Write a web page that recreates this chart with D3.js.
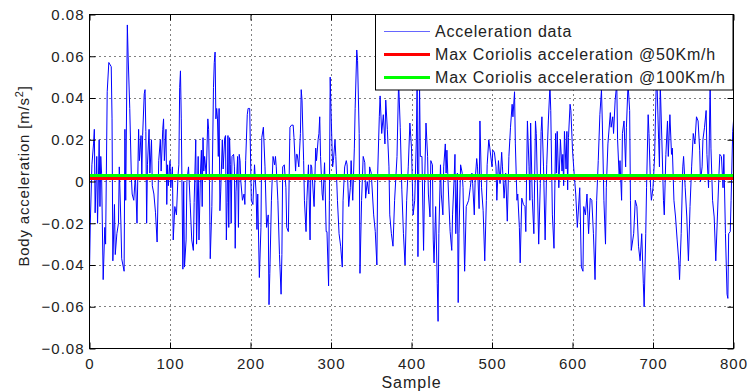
<!DOCTYPE html>
<html>
<head>
<meta charset="utf-8">
<script src="https://cdn.jsdelivr.net/npm/d3@7"></script>
<style>
    body { margin: 0; background: #fff; }
    svg { display: block; font-family: "Liberation Sans", Arial, Helvetica, sans-serif; }
</style>
</head>
<body>
<svg id="chart" width="749" height="392"></svg>
<script>
'use strict';

// [sample, body acceleration (m/s^2)]
var accelReadings = [
    [0,-0.043],[1,-0.02],[3,0.008],[5,0.018],[6,0.025],[7,-0.015],[9,0.012],[10,-0.02],[12,0.02],[13,-0.012],
    [14,0.012],[15,0.004],[17,-0.047],[19,-0.022],[20,-0.03],[22,0.043],[24,0.057],[27,0.055],[28,0.03],[29,-0.038],
    [31,-0.011],[32,-0.035],[34,-0.025],[36,-0.02],[37,0.007],[39,-0.02],[40,-0.037],[43,-0.043],[44,0.025],[45,-0.009],
    [47,0.075],[48,0.06],[50,0.035],[52,0.002],[53,-0.006],[55,-0.009],[57,0.003],[59,-0.02],[61,0.025],[62,0.01],
    [64,0.022],[65,0.003],[66,0.022],[68,0.042],[69,0.044],[70,0.024],[71,-0.02],[72,0.008],[74,0.025],[75,0.004],
    [77,0.02],[78,-0.002],[80,-0.006],[82,-0.015],[84,-0.029],[86,0.01],[88,0.02],[89,0.005],[91,0.025],[92,0.03],
    [93,0.01],[95,0.025],[96,-0.011],[97,0.008],[98,-0.002],[100,0.01],[101,-0.003],[103,0.007],[104,-0.028],[106,-0.012],
    [108,-0.016],[110,0.003],[111,0.008],[112,0.045],[113,0.053],[114,0.03],[116,-0.042],[117,0],[118,-0.041],[120,-0.028],
    [121,0],[123,0.007],[125,-0.01],[127,-0.028],[129,-0.033],[130,-0.01],[132,0.02],[133,-0.03],[135,0.012],[136,-0.028],
    [138,0.006],[139,0.015],[140,-0.012],[141,0.021],[142,0.005],[143,0.012],[145,0.003],[147,0.03],[148,0.025],[149,0],
    [150,-0.037],[152,-0.012],[154,0.045],[155,0.057],[156,0.062],[157,0.03],[158,0.035],[159,0.03],[160,0.012],[161,0.035],
    [162,-0.014],[163,-0.005],[165,0.02],[166,0.006],[168,0.021],[169,0.022],[170,-0.028],[171,-0.01],[172,0.022],[173,-0.022],
    [174,0.021],[175,0.008],[176,-0.02],[177,0.012],[179,0.013],[180,0.007],[181,-0.032],[182,-0.005],[184,0.012],[185,-0.022],
    [186,0.013],[187,0.01],[188,0],[190,-0.009],[192,-0.006],[193,-0.011],[194,0.01],[196,0.032],[197,0.035],[198,0.035],
    [199,0.035],[201,-0.009],[203,-0.011],[205,0.008],[207,-0.006],[208,-0.023],[209,-0.006],[211,-0.046],[213,-0.022],[214,0.021],
    [216,0.026],[218,0.007],[220,-0.022],[222,-0.016],[223,-0.059],[224,-0.044],[226,-0.009],[228,0.012],[230,0.008],[231,0.012],
    [232,0.007],[234,-0.009],[236,-0.035],[238,-0.054],[239,-0.035],[240,0.007],[242,0.008],[244,-0.003],[245,-0.022],[247,-0.024],
    [249,0.026],[251,0.027],[253,0.027],[254,0.021],[256,0.005],[257,0.013],[258,0.013],[260,0.007],[262,0.023],[263,0.044],
    [264,0.039],[266,0.01],[267,-0.009],[269,-0.024],[270,-0.009],[272,0.008],[274,-0.028],[275,0.008],[276,0.007],[278,-0.006],
    [279,-0.012],[281,0.016],[282,0.01],[284,0.02],[285,0.023],[286,0.031],[287,0.012],[289,-0.006],[290,-0.009],[292,0.009],
    [294,-0.024],[295,-0.024],[297,-0.05],[298,-0.009],[299,0.05],[300,0.034],[302,0.007],[303,0.01],[305,0.02],[306,0.012],
    [308,-0.009],[310,-0.025],[312,-0.031],[314,-0.041],[315,-0.009],[317,0.007],[319,0.01],[320,0.008],[322,-0.012],[324,-0.003],
    [325,0.01],[327,-0.009],[329,0.016],[330,0.035],[332,0.063],[333,0.058],[335,0.023],[336,-0.044],[338,-0.009],[340,0.012],
    [342,0.009],[343,-0.008],[345,0],[347,-0.006],[348,0.007],[350,0.004],[353,-0.016],[355,-0.024],[357,-0.04],[358,0.004],
    [360,0.031],[361,0.041],[363,0.023],[365,0.032],[367,0.018],[368,0.039],[370,0.025],[372,0.007],[373,-0.016],[375,-0.025],
    [377,-0.031],[379,-0.009],[382,0.012],[384,0.048],[386,0.026],[388,-0.004],[390,-0.025],[392,-0.04],[394,-0.009],[396,0.007],
    [398,0.028],[400,0.016],[402,-0.016],[404,-0.009],[406,0.02],[407,0.047],[408,-0.036],[410,0.046],[411,0.012],[413,0.012],
    [415,-0.033],[416,-0.006],[418,0.028],[420,0.012],[421,-0.006],[423,-0.017],[424,0.01],[426,0.008],[427,-0.028],[428,-0.039],
    [430,-0.012],[432,-0.049],[433,-0.067],[434,-0.025],[436,0.008],[437,-0.006],[439,-0.016],[440,0.007],[442,0.018],[443,0.004],
    [444,0.015],[446,-0.006],[448,-0.024],[450,-0.033],[451,-0.016],[453,0.002],[454,0.013],[455,-0.025],[457,0.004],[458,-0.058],
    [459,-0.025],[461,0.008],[463,0.004],[464,-0.003],[466,-0.043],[468,-0.012],[471,-0.009],[473,-0.003],[475,0.004],[476,-0.001],
    [478,-0.016],[479,0],[481,0.011],[482,0.007],[484,-0.013],[485,0.029],[487,-0.003],[489,-0.014],[491,-0.038],[493,-0.009],
    [494,0.008],[496,0.02],[497,0.017],[500,0.007],[501,0.015],[503,0.014],[505,0.007],[506,-0.009],[508,0.01],[510,-0.001],
    [512,0.014],[513,0.007],[515,-0.008],[517,0.004],[519,-0.019],[521,0.012],[523,0.026],[525,0.037],[526,0.031],[528,0.043],
    [529,0.018],[531,-0.009],[532,-0.006],[534,-0.022],[535,-0.039],[537,-0.008],[539,-0.011],[541,-0.012],[542,-0.024],[544,0.029],
    [546,0.007],[547,-0.009],[548,0.028],[550,-0.008],[552,-0.025],[554,0.029],[555,0.023],[558,-0.03],[560,-0.001],[561,0.024],
    [562,0.031],[564,0.007],[566,-0.028],[568,0.008],[570,0.029],[572,0.046],[573,0.034],[575,-0.016],[577,-0.032],[579,0.023],
    [580,0.004],[581,0.024],[583,-0.003],[585,0.02],[587,0.005],[588,0.013],[589,-0.002],[590,0.024],[592,0.006],[593,0.024],
    [594,-0.004],[595,0.021],[597,0.037],[598,0.034],[600,0.015],[602,0.004],[604,-0.006],[606,-0.022],[609,-0.003],[611,-0.041],
    [613,-0.043],[614,-0.012],[616,-0.016],[618,-0.006],[620,-0.025],[622,-0.008],[624,-0.009],[626,-0.025],[628,-0.047],[630,-0.009],
    [632,0.01],[634,0.032],[636,0.044],[637,0.029],[639,-0.009],[641,-0.03],[642,-0.003],[644,0.018],[647,0.033],[648,0.026],
    [650,0.031],[651,0.023],[653,0.039],[655,0.047],[656,0.02],[658,0.002],[659,0.01],[661,-0.009],[662,0.023],[664,0.029],
    [666,0.007],[667,0.026],[669,0.047],[671,0.034],[672,-0.009],[673,-0.033],[676,-0.025],[678,-0.009],[680,-0.012],[682,-0.031],
    [684,-0.038],[686,-0.025],[688,-0.049],[689,-0.06],[691,-0.025],[692,-0.003],[694,0.032],[695,0.023],[697,-0.003],[698,-0.009],
    [700,-0.003],[702,0.012],[704,0.047],[705,0.047],[707,0.02],[708,0.007],[709,0.047],[711,0.02],[713,-0.009],[714,-0.016],
    [716,0.013],[718,0.029],[719,0.012],[721,0.032],[723,0.013],[724,0.016],[726,-0.009],[728,-0.017],[730,-0.028],[732,-0.038],
    [733,-0.047],[735,-0.025],[737,0.007],[738,0.012],[740,-0.003],[742,-0.017],[744,-0.038],[746,-0.012],[748,0.007],[750,0.023],
    [752,0.018],[754,0.031],[756,0.029],[758,0.015],[759,0],[761,0.007],[762,0.02],[764,0.026],[766,0.034],[767,0.013],
    [769,-0.003],[771,0.047],[772,0.016],[774,-0.009],[776,-0.017],[778,-0.038],[780,-0.017],[782,0.004],[783,0.013],[785,0.012],
    [787,-0.003],[788,0.013],[790,-0.025],[792,-0.054],[793,-0.056],[794,-0.025],[796,-0.024],[797,-0.009],[799,0.024],[800,0.029]
];

// max Coriolis acceleration levels (m/s^2)
var coriolisSpeeds = ['@50Km/h', '@100Km/h'];
var coriolisLevels = [0.00143, 0.00286];
var coriolisColors = ['#ff0000', '#00ff00'];

var xTicks = [0, 100, 200, 300, 400, 500, 600, 700, 800];
var yTicks = [-0.08, -0.06, -0.04, -0.02, 0, 0.02, 0.04, 0.06, 0.08];

var legendLabels = ['Acceleration data',
    'Max Coriolis acceleration ' + coriolisSpeeds[0],
    'Max Coriolis acceleration ' + coriolisSpeeds[1]];

var plotLeft = 89.5;
var plotRight = 733.5;
var plotTop = 14.5;
var plotBottom = 348.5;

var svg = d3.select('#chart');

var x = d3.scaleLinear().domain([0, 800]).range([plotLeft, plotRight]);
var y = d3.scaleLinear().domain([-0.08, 0.08]).range([plotBottom, plotTop]);

function fmtY(d) {
    if (Math.abs(d) < 1e-9) {
        return '0';
    }
    return d3.format('.2f')(d);
}

// dotted grid
var grid = svg.append('g').attr('class', 'grid');

grid.selectAll('line.vgrid')
    .data(xTicks.slice(1, -1))
    .enter()
    .append('line')
    .attr('class', 'vgrid')
    .attr('x1', function (d) { return Math.round(x(d)) + 0.5; })
    .attr('x2', function (d) { return Math.round(x(d)) + 0.5; })
    .attr('y1', plotTop)
    .attr('y2', plotBottom)
    .attr('stroke', '#000')
    .attr('stroke-width', 1)
    .attr('stroke-dasharray', '1,4');

grid.selectAll('line.hgrid')
    .data(yTicks.slice(1, -1))
    .enter()
    .append('line')
    .attr('class', 'hgrid')
    .attr('x1', plotLeft)
    .attr('x2', plotRight)
    .attr('y1', function (d) { return Math.round(y(d) - 0.5) + 0.5; })
    .attr('y2', function (d) { return Math.round(y(d) - 0.5) + 0.5; })
    .attr('stroke', '#000')
    .attr('stroke-width', 1)
    .attr('stroke-dasharray', '1,4');

svg.append('clipPath')
    .attr('id', 'plotClip')
    .append('rect')
    .attr('x', plotLeft)
    .attr('y', plotTop)
    .attr('width', plotRight - plotLeft)
    .attr('height', plotBottom - plotTop);

var plotArea = svg.append('g').attr('clip-path', 'url(#plotClip)');

var accelLine = d3.line()
    .x(function (d) { return x(d[0]); })
    .y(function (d) { return y(d[1]); });

plotArea.append('path')
    .datum(accelReadings)
    .attr('d', accelLine)
    .attr('fill', 'none')
    .attr('stroke', '#0000ff')
    .attr('stroke-width', 1);

plotArea.selectAll('line.coriolis')
    .data(coriolisLevels)
    .enter()
    .append('line')
    .attr('class', 'coriolis')
    .attr('x1', x(0))
    .attr('x2', x(800))
    .attr('y1', function (d) { return y(d); })
    .attr('y2', function (d) { return y(d); })
    .attr('stroke', function (d, i) { return coriolisColors[i]; })
    .attr('stroke-width', 3);

// axes with inward ticks
function styleAxis(g) {
    g.select('.domain').remove();
    g.selectAll('.tick line').attr('stroke', '#000');
    g.selectAll('text')
        .attr('fill', '#222')
        .style('font-size', '15px')
        .style('letter-spacing', '1px')
        .style('font-family', '"Liberation Sans", Arial, sans-serif');
}

svg.append('g')
    .attr('transform', 'translate(0,' + plotBottom + ')')
    .call(d3.axisBottom(x).tickValues(xTicks).tickSize(-6).tickPadding(9.5).tickFormat(d3.format('d')))
    .call(styleAxis);

svg.append('g')
    .attr('transform', 'translate(0,' + plotTop + ')')
    .call(d3.axisTop(x).tickValues(xTicks).tickSize(-6).tickFormat(''))
    .call(styleAxis);

svg.append('g')
    .attr('transform', 'translate(' + plotLeft + ',0)')
    .call(d3.axisLeft(y).tickValues(yTicks).tickSize(-6).tickPadding(5).tickFormat(fmtY))
    .call(styleAxis);

svg.append('g')
    .attr('transform', 'translate(' + plotRight + ',0)')
    .call(d3.axisRight(y).tickValues(yTicks).tickSize(-6).tickFormat(''))
    .call(styleAxis);

svg.append('rect')
    .attr('x', plotLeft)
    .attr('y', plotTop)
    .attr('width', plotRight - plotLeft)
    .attr('height', plotBottom - plotTop)
    .attr('fill', 'none')
    .attr('stroke', '#000')
    .attr('stroke-width', 1);

// axis titles
svg.append('text')
    .attr('x', (plotLeft + plotRight) / 2)
    .attr('y', 388)
    .attr('text-anchor', 'middle')
    .attr('fill', '#222')
    .style('font-size', '16px')
    .style('letter-spacing', '1px')
    .text('Sample');

var yTitle = svg.append('text')
    .attr('transform', 'translate(28.5,176) rotate(-90)')
    .attr('text-anchor', 'middle')
    .attr('fill', '#222')
    .style('font-size', '15px')
    .style('letter-spacing', '0.8px');

yTitle.append('tspan').text('Body acceleration [m/s');
yTitle.append('tspan')
    .attr('dy', -6)
    .style('font-size', '11px')
    .text('2');
yTitle.append('tspan')
    .attr('dy', 6)
    .text(']');

// legend
var legend = svg.append('g').attr('class', 'legend');

legend.append('rect')
    .attr('x', 375.5)
    .attr('y', 14.5)
    .attr('width', 357.5)
    .attr('height', 75.5)
    .attr('fill', '#fff')
    .attr('stroke', '#000')
    .attr('stroke-width', 1);

var legendColors = ['#0000ff'].concat(coriolisColors);
var legendWidths = [1, 3, 3];

var items = legend.selectAll('g.item')
    .data(legendLabels)
    .enter()
    .append('g')
    .attr('class', 'item')
    .attr('transform', function (d, i) { return 'translate(0,' + (36.5 + i * 23) + ')'; });

items.append('line')
    .attr('x1', 384)
    .attr('x2', 430)
    .attr('y1', -5)
    .attr('y2', -5)
    .attr('stroke', function (d, i) { return legendColors[i]; })
    .attr('stroke-width', function (d, i) { return legendWidths[i]; })
    .attr('stroke-opacity', function (d, i) { return i === 0 ? 0.6 : 1; });

items.append('text')
    .attr('x', 435)
    .attr('y', 0)
    .attr('fill', '#222')
    .style('font-size', '16px')
    .style('letter-spacing', '0.8px')
    .text(function (d) { return d; });
</script>
</body>
</html>
